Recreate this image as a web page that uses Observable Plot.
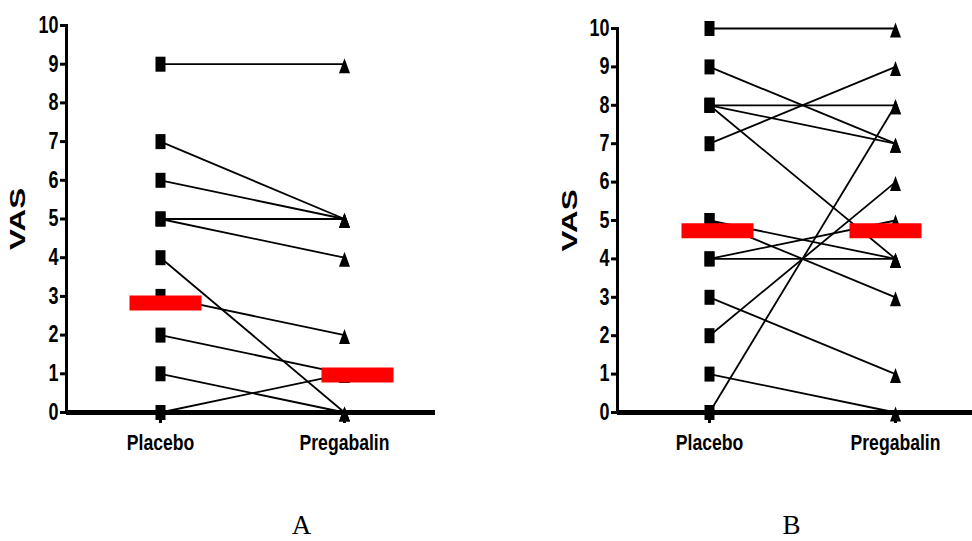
<!DOCTYPE html>
<html>
<head>
<meta charset="utf-8">
<script src="https://cdn.jsdelivr.net/npm/d3@7"></script>
<script src="https://cdn.jsdelivr.net/npm/@observablehq/plot@0.6"></script>
<style>
  html, body { margin: 0; padding: 0; background: #fff; }
  #wrap { position: relative; width: 972px; height: 541px; overflow: hidden; background: #fff; }
  #wrap > div { position: absolute; top: 0; }
  #panelA { left: 0; }
  #panelB { left: 540px; }
</style>
</head>
<body>
<div id="wrap"><div id="panelA"></div><div id="panelB"></div></div>
<script>
// ---- data ----
const categories = ["Placebo", "Pregabalin"];
const yTicks = [0, 1, 2, 3, 4, 5, 6, 7, 8, 9, 10];
const panelLabels = ["A", "B"];
const yLabel = "VAS";

// Panel A: paired VAS scores
const placeboA    = [9, 7, 6, 5, 5, 4, 3, 2, 1, 0];
const pregabalinA = [9, 5, 5, 5, 4, 0, 2, 1, 0, 1];
const meanA = [2.83, 0.97];   // red bars (placebo, pregabalin)

// Panel B: paired VAS scores
const placeboB    = [10, 9, 8, 8, 8, 7, 5, 5, 4, 4, 3, 2, 1, 0];
const pregabalinB = [10, 7, 8, 7, 4, 9, 4, 3, 4, 5, 1, 6, 0, 8];
const meanB = [4.73, 4.73];

// ---- symbols ----
const squareSym = { draw(ctx) { ctx.rect(-5, -7.5, 10, 15); } };
const triSym = { draw(ctx) { ctx.moveTo(0, -6); ctx.lineTo(5.5, 9); ctx.lineTo(-5.5, 9); ctx.closePath(); } };
const barSym = { draw(ctx) { ctx.rect(-36, -7.5, 72, 15); } };

const sans = "'Liberation Sans', Arial, sans-serif";

function squeeze(sel, factor) {
  sel.each(function () {
    const len = this.getComputedTextLength();
    this.setAttribute("textLength", (len * factor).toFixed(1));
    this.setAttribute("lengthAdjust", "spacingAndGlyphs");
  });
}

function panel(host, opts) {
  const pairs = opts.placebo.map((p, i) => ({ placebo: p, pregabalin: opts.pregabalin[i] }));
  const means = categories.map((c, i) => ({ group: c, value: opts.mean[i] }));
  const svg = Plot.plot({
    width: opts.width,
    height: 541,
    marginLeft: opts.marginLeft,
    marginRight: opts.marginRight,
    marginTop: opts.marginTop,
    marginBottom: 129,
    style: { fontFamily: sans, fontWeight: "bold", color: "#000", background: "transparent" },
    x: { type: "point", domain: categories, range: opts.xRange, padding: 0 },
    y: { domain: [0, 10], range: [412, opts.marginTop] },
    marks: [
      Plot.frame({ anchor: "left", stroke: "#000", strokeWidth: 3 }),
      Plot.axisY({ ticks: yTicks, tickSize: 6, tickPadding: 2, strokeWidth: 3, fontSize: 23, fontWeight: "bold", label: null }),
      Plot.axisX({ tickSize: 11, tickPadding: 11, strokeWidth: 3, fontSize: 22, fontWeight: "bold", label: null }),
      Plot.link(pairs, {
        x1: () => categories[0], x2: () => categories[1],
        y1: "placebo", y2: "pregabalin",
        stroke: "#000", strokeWidth: 1.8
      }),
      Plot.dot(pairs, { x: () => categories[0], y: "placebo", symbol: squareSym, fill: "#000", r: 5 }),
      Plot.dot(pairs, { x: () => categories[1], y: "pregabalin", symbol: triSym, fill: "#000", r: 5 }),
      Plot.ruleY([0], { stroke: "#000", strokeWidth: 5 }),
      Plot.dot(means.slice(0, 1), { x: "group", y: "value", symbol: barSym, fill: "#ff0000", r: 5, dx: opts.barDx[0] }),
      Plot.dot(means.slice(1, 2), { x: "group", y: "value", symbol: barSym, fill: "#ff0000", r: 5, dx: opts.barDx[1] }),
      Plot.text([yLabel], {
        frameAnchor: "left", dx: opts.vasDx, rotate: -90, textAnchor: "middle",
        fontSize: 22, fontWeight: "bold", fontFamily: sans, fill: "#000"
      }),
      Plot.text([opts.label], {
        frameAnchor: "bottom", dx: opts.labelDx, dy: 113, lineAnchor: "middle", textAnchor: "middle",
        fontSize: 27, fontWeight: "normal", fontFamily: "'Liberation Serif', 'Times New Roman', serif", fill: "#000"
      })
    ]
  });
  host.appendChild(svg);
  // narrow tick labels (Arial Narrow look) and stretched axis title
  squeeze(d3.select(svg).selectAll("g[aria-label='y-axis tick label'] text"), 0.78);
  squeeze(d3.select(svg).selectAll("g[aria-label='x-axis tick label'] text"), 0.8);
  d3.select(svg).selectAll("text").filter(function () { return this.textContent === yLabel; })
    .attr("textLength", 62).attr("lengthAdjust", "spacingAndGlyphs");
  return svg;
}

panel(document.getElementById("panelA"), {
  width: 450, marginLeft: 66, marginRight: 15, marginTop: 25,
  xRange: [160, 344], placebo: placeboA, pregabalin: pregabalinA, mean: meanA,
  barDx: [5, 13], vasDx: -48.5, label: panelLabels[0], labelDx: 50.5
});
panel(document.getElementById("panelB"), {
  width: 432, marginLeft: 77, marginRight: 0, marginTop: 28,
  xRange: [169, 355], placebo: placeboB, pregabalin: pregabalinB, mean: meanB,
  barDx: [8, -10], vasDx: -47.5, label: panelLabels[1], labelDx: -3.5
});
</script>
</body>
</html>
